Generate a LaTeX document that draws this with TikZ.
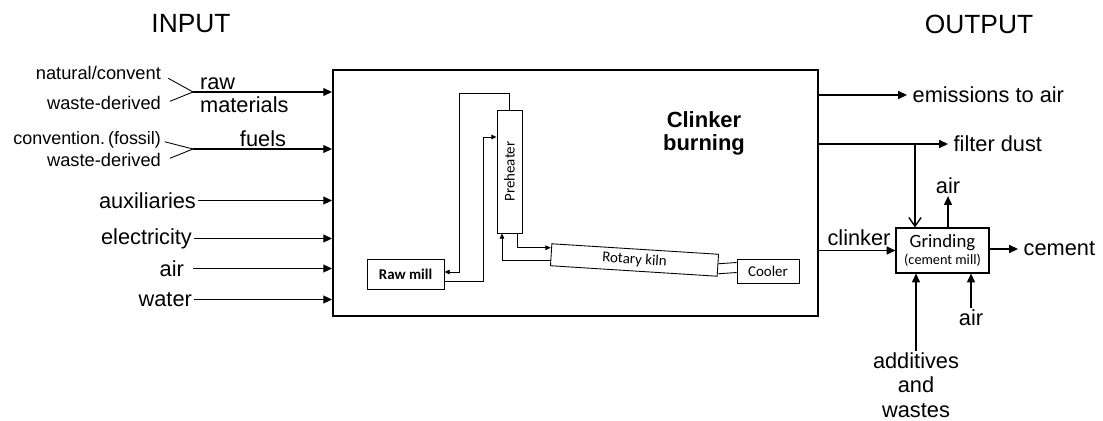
\documentclass[tikz,border=0pt]{standalone}
\usepackage{fontspec}
\setmainfont{Liberation Sans}
\newfontfamily\calfont{Carlito}
\usetikzlibrary{arrows.meta}
\tikzset{
  lbl/.style={font=\fontsize{12.4}{14}\selectfont, inner sep=1pt},
  small/.style={font=\fontsize{10.4}{12}\selectfont, inner sep=1pt},
  unit/.style={draw, line width=0.5pt, inner sep=0pt, font=\calfont\fontsize{8.5}{10}\selectfont},
  flow/.style={line width=0.8pt, -{Triangle[length=5pt,width=4.5pt]}},
  inflow/.style={line width=0.5pt, -{Triangle[length=3pt,width=2.6pt]}},
  branch/.style={line width=0.5pt}
}
\begin{document}
\begin{tikzpicture}
  \useasboundingbox (0,0) rectangle (22.06,-8.40);
  % headings
  \node[font=\fontsize{15}{17}\selectfont] (inhead) at (3.82,-0.48) {INPUT};
  \node[font=\fontsize{15}{17}\selectfont] (outhead) at (19.58,-0.48) {OUTPUT};
  % clinker burning box
  \node[draw, line width=1.1pt, minimum width=9.70cm, minimum height=4.92cm] (burn) at (11.51,-3.86) {};
  \node[font=\bfseries\fontsize{12.5}{13.5}\selectfont, align=center] (burnlbl) at (14.08,-2.67) {Clinker\\burning};
  % inner units
  \node[unit, font=\calfont\bfseries\fontsize{8.5}{10}\selectfont, minimum width=1.54cm, minimum height=0.60cm] (rm) at (8.11,-5.48) {Raw mill};
  \node[unit, minimum width=0.50cm, minimum height=2.46cm] (pre) at (10.19,-3.43) {\rotatebox{90}{Preheater}};
  \node[unit, minimum width=3.34cm, minimum height=0.44cm, rotate=-3.6] (kiln) at (12.69,-5.20) {Rotary kiln};
  \node[unit, minimum width=1.24cm, minimum height=0.48cm] (cl) at (15.36,-5.42) {Cooler};
  % gas and meal loops
  \draw[inflow] (pre.north) |- (9.18,-1.86) |- ([yshift=0.04cm]rm.east);
  \draw[inflow] ([yshift=-0.14cm]rm.east) -| (9.66,-2.74) -- (pre.west |- 9.66,-2.74);
  \draw[inflow] ([xshift=0.15cm]pre.south) |- ([yshift=0.14cm]kiln.west);
  \draw[inflow] ([yshift=-0.12cm]kiln.west) -| ([xshift=-0.15cm]pre.south);
  \draw[branch] ([yshift=0.03cm]kiln.east) -- ([yshift=0.17cm]cl.west);
  \draw[branch] ([yshift=-0.17cm]kiln.east) -- ([yshift=-0.03cm]cl.west);
  % inputs: raw materials
  \node[small, anchor=east] (nat) at (3.26,-1.46) {natural/convent};
  \node[small, anchor=east] (wst) at (3.26,-2.06) {waste-derived};
  \coordinate (braw) at (3.86,-1.84);
  \draw[branch] ([xshift=3pt,yshift=-3pt]nat.east) -- (braw);
  \draw[branch] ([xshift=4pt,yshift=1pt]wst.east) -- (braw);
  \draw[flow] (braw) -- (braw -| burn.west);
  \node[lbl, anchor=west, align=left, font=\fontsize{12.4}{13.2}\selectfont] (rawlbl) at (3.96,-1.90) {raw\\materials};
  % inputs: fuels
  \node[small, anchor=east, font=\fontsize{10.2}{12}\selectfont] (conv) at (3.26,-2.80) {convention.\,(fossil)};
  \node[small, anchor=east] (wst2) at (3.26,-3.20) {waste-derived};
  \coordinate (bfuel) at (3.86,-2.98);
  \draw[branch] ([xshift=1pt,yshift=-1pt]conv.east) -- (bfuel);
  \draw[branch] ([xshift=4pt,yshift=1pt]wst2.east) -- (bfuel);
  \draw[flow] (bfuel) -- (bfuel -| burn.west);
  \node[lbl] (fuellbl) at (5.26,-2.78) {fuels};
  % other inputs
  \node[lbl, anchor=east] (aux) at (3.96,-4.01) {auxiliaries};
  \node[lbl, anchor=east] (elec) at (3.88,-4.77) {electricity};
  \node[lbl, anchor=east] (airin) at (3.72,-5.37) {air};
  \node[lbl, anchor=east] (water) at (3.88,-5.99) {water};
  \draw[flow] (aux.east) -- (aux.east -| burn.west);
  \draw[flow] (elec.east) -- (elec.east -| burn.west);
  \draw[flow] ([xshift=4pt]airin.east) -- (airin.east -| burn.west);
  \draw[flow] (water.east) -- (water.east -| burn.west);
  % outputs
  \node[lbl, anchor=west, inner sep=3pt] (emis) at (18.14,-1.90) {emissions to air};
  \node[lbl, anchor=west, inner sep=3pt] (dust) at (18.96,-2.88) {filter dust};
  \draw[flow] (burn.east |- emis.west) -- (emis.west);
  \draw[flow] (burn.east |- dust.west) -- (dust.west);
  % grinding
  \node[draw, line width=0.6pt, minimum width=1.86cm, minimum height=0.90cm, align=center, inner sep=0pt,
        font=\calfont\fontsize{10.7}{11}\selectfont] (grind) at (18.85,-5.01)
        {Grinding\\[-1pt]{\fontsize{8.1}{9}\selectfont(cement mill)}};
  \coordinate (fd) at (18.30,-2.88);
  \draw[line width=0.8pt, -{Straight Barb[length=5pt,width=7pt]}] (fd) -- (fd |- grind.north);
  \node[lbl] (airout) at (18.96,-3.72) {air};
  \draw[flow] (airout.south |- grind.north) -- (airout.south);
  \draw[flow] (burn.east |- grind.west) -- (grind.west);
  \node[lbl] (clk) at (17.18,-4.76) {clinker};
  \node[lbl, anchor=west, inner sep=3pt] (cem) at (20.36,-4.98) {cement};
  \draw[flow] (grind.east |- cem.west) -- (cem.west);
  \node[lbl, align=center, font=\fontsize{12.4}{13.8}\selectfont] (add) at (18.32,-7.70) {additives\\and\\wastes};
  \draw[flow] (add.north) -- (add.north |- grind.south);
  \node[lbl] (airbot) at (19.42,-6.36) {air};
  \draw[flow] (airbot.north) -- (airbot.north |- grind.south);
\end{tikzpicture}
\end{document}
